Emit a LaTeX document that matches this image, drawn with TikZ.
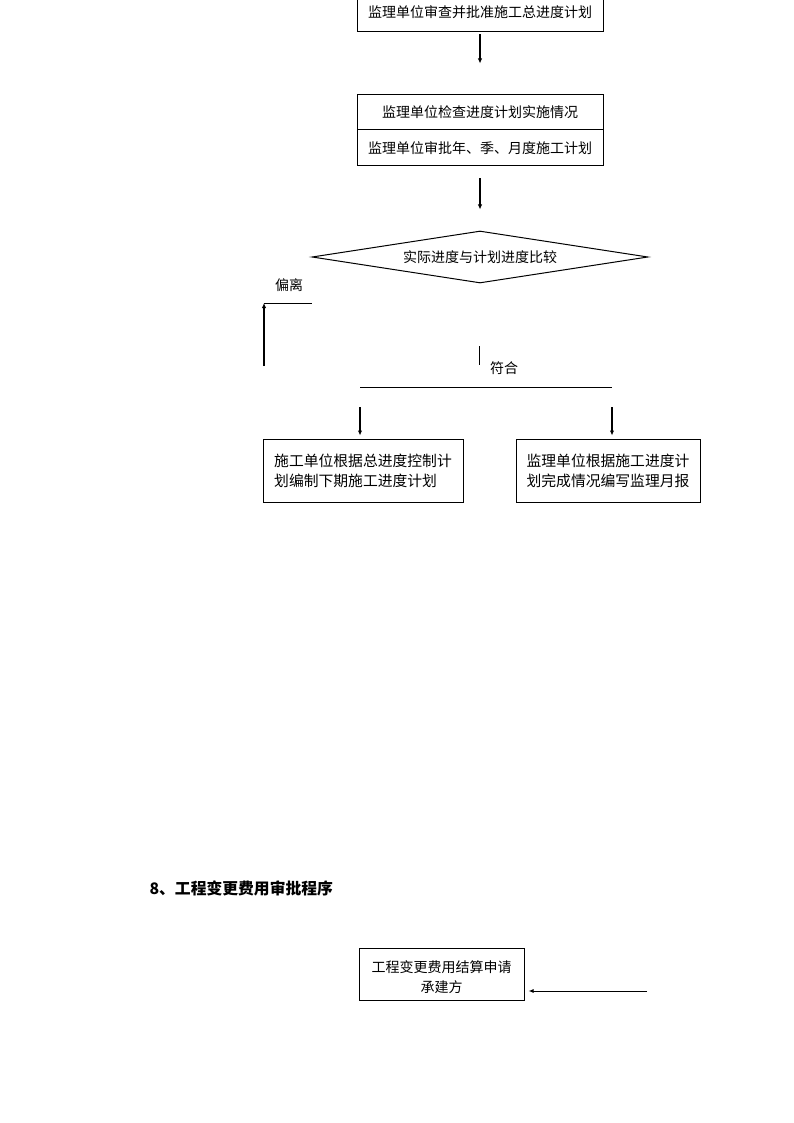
\documentclass[tikz,border=0pt]{standalone}
\usepackage{fontspec}
\setmainfont{Noto Sans CJK SC}
\usetikzlibrary{shapes.geometric,arrows.meta}
\begin{document}
\begin{tikzpicture}[x=1pt, y=-1pt,
	every node/.style={font=\fontsize{14pt}{20pt}\selectfont},
	box/.style={draw, line width=1pt, inner sep=0pt},
	flow/.style={line width=2pt, -{Latex[length=5pt,width=4.5pt]}},
	plainline/.style={line width=1pt}]
	\useasboundingbox (0,0) rectangle (794,1123);
	% progress control
	\node[box, minimum width=246, minimum height=40] (plan) at (480,12) {监理单位审查并批准施工总进度计划};
	\node[box, minimum width=246, minimum height=35] (check1) at (480,112.5) {监理单位检查进度计划实施情况};
	\node[box, minimum width=246, minimum height=36] (check2) at (480,148) {监理单位审批年、季、月度施工计划};
	\node[draw, line width=1pt, diamond, aspect=6.5, inner sep=0pt, minimum width=336, minimum height=52] (decide) at (480,257) {实际进度与计划进度比较};
	\draw[flow, shorten <=2, shorten >=31] (plan.south) -- (check1.north);
	\draw[flow, shorten <=12, shorten >=21] (check2.south) -- (decide.north);
	% deviation branch
	\coordinate (devfoot) at (264,366);
	\coordinate (devtop) at (264,303);
	\coordinate (devend) at (312,303);
	\draw[flow] (devfoot) -- (devtop);
	\draw[plainline] (devtop) -- (devend);
	\node (dev) at (289,285) {偏离};
	% match branch
	\coordinate (okup) at (479,346);
	\coordinate (okdown) at (479,365);
	\draw[plainline] (okup) -- (okdown);
	\node (ok) at (504,368) {符合};
	\coordinate (splitL) at (360,387);
	\coordinate (splitR) at (612,387);
	\draw[plainline] (splitL) -- (splitR);
	\node[box, minimum width=200, minimum height=63, align=left, font=\fontsize{14.8pt}{20pt}\selectfont] (nextplan) at (363,470.5) {施工单位根据总进度控制计\\划编制下期施工进度计划};
	\node[box, minimum width=184, minimum height=63, align=left, font=\fontsize{14.8pt}{20pt}\selectfont] (report) at (608,470.5) {监理单位根据施工进度计\\划完成情况编写监理月报};
	\draw[flow, shorten <=20, shorten >=3] (splitL) -- (splitL |- nextplan.north);
	\draw[flow, shorten <=20, shorten >=3] (splitR) -- (splitR |- report.north);
	% section 8
	\node[anchor=west, font=\fontsize{15.8pt}{20pt}\selectfont\bfseries] (sec8) at (146,888) {8、工程变更费用审批程序};
	\node[box, minimum width=165, minimum height=52, align=center, text height=38pt] (apply) at (441.5,974) {工程变更费用结算申请\\承建方};
	\coordinate (contractor) at (647,991);
	\draw[plainline, -{Latex[length=5pt,width=4pt]}, shorten >=4] (contractor) -- (contractor -| apply.east);
\end{tikzpicture}
\end{document}
